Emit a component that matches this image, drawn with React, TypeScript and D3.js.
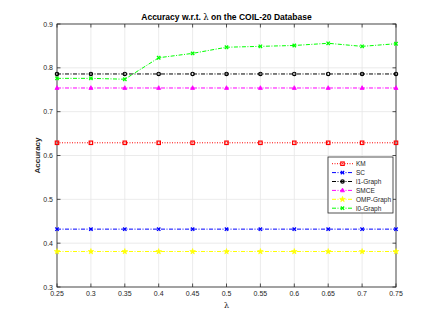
import React, { useEffect, useRef } from 'react';
import * as d3 from 'd3';

const lambdas = [0.25, 0.3, 0.35, 0.4, 0.45, 0.5, 0.55, 0.6, 0.65, 0.7, 0.75];
const kmValues = [0.629, 0.629, 0.629, 0.629, 0.629, 0.629, 0.629, 0.629, 0.629, 0.629, 0.629];
const scValues = [0.432, 0.432, 0.432, 0.432, 0.432, 0.432, 0.432, 0.432, 0.432, 0.432, 0.432];
const l1Values = [0.786, 0.786, 0.786, 0.786, 0.786, 0.786, 0.786, 0.786, 0.786, 0.786, 0.786];
const smceValues = [0.754, 0.754, 0.754, 0.754, 0.754, 0.754, 0.754, 0.754, 0.754, 0.754, 0.754];
const ompValues = [0.381, 0.381, 0.381, 0.381, 0.381, 0.381, 0.381, 0.381, 0.381, 0.381, 0.381];
const l0Values = [0.776, 0.776, 0.774, 0.823, 0.833, 0.847, 0.849, 0.851, 0.856, 0.849, 0.855];
const yTicks = [0.3, 0.4, 0.5, 0.6, 0.7, 0.8, 0.9];

const series = [
  { name: 'KM', values: kmValues, color: '#ff0000', dash: '1,1.5', marker: 'square' },
  { name: 'SC', values: scValues, color: '#0000ff', dash: '4,1.5,1,1.5', marker: 'x' },
  { name: 'l1-Graph', values: l1Values, color: '#000000', dash: '4,1.5,1,1.5', marker: 'circle' },
  { name: 'SMCE', values: smceValues, color: '#ff00ff', dash: '4,1.5,1,1.5', marker: 'triangle' },
  { name: 'OMP-Graph', values: ompValues, color: '#ffff00', dash: '4,1.5,1,1.5', marker: 'star' },
  { name: 'l0-Graph', values: l0Values, color: '#00ff00', dash: '4,1.5,1,1.5', marker: 'x' },
];

const App = () => {
  const svgRef = useRef<SVGSVGElement>(null);

  useEffect(() => {
    const svg = d3.select(svgRef.current);
    svg.selectAll('*').remove();

    const left = 57, right = 396, top = 24, bottom = 287;
    const x = d3.scaleLinear().domain([0.25, 0.75]).range([left, right]);
    const y = d3.scaleLinear().domain([0.3, 0.9]).range([bottom, top]);
    const font = 'Liberation Sans, Arial, sans-serif';

    svg.append('rect').attr('width', 438).attr('height', 323).attr('fill', '#fff');

    // grid
    svg.append('g').selectAll('line').data(lambdas).enter().append('line')
      .attr('x1', d => x(d)).attr('x2', d => x(d)).attr('y1', top).attr('y2', bottom)
      .attr('stroke', '#e6e6e6').attr('stroke-width', 0.8);
    svg.append('g').selectAll('line').data(yTicks).enter().append('line')
      .attr('x1', left).attr('x2', right).attr('y1', d => y(d)).attr('y2', d => y(d))
      .attr('stroke', '#e6e6e6').attr('stroke-width', 0.8);

    // axes frame with inward ticks
    const tickLen = 3.5;
    const axisColor = '#262626';
    const ax = svg.append('g').attr('stroke', axisColor).attr('stroke-width', 0.8);
    ax.append('rect').attr('x', left).attr('y', top).attr('width', right - left).attr('height', bottom - top)
      .attr('fill', 'none');
    lambdas.forEach(d => {
      ax.append('line').attr('x1', x(d)).attr('x2', x(d)).attr('y1', bottom).attr('y2', bottom - tickLen);
      ax.append('line').attr('x1', x(d)).attr('x2', x(d)).attr('y1', top).attr('y2', top + tickLen);
    });
    yTicks.forEach(d => {
      ax.append('line').attr('x1', left).attr('x2', left + tickLen).attr('y1', y(d)).attr('y2', y(d));
      ax.append('line').attr('x1', right).attr('x2', right - tickLen).attr('y1', y(d)).attr('y2', y(d));
    });

    // tick labels
    svg.append('g').selectAll('text').data(lambdas).enter().append('text')
      .attr('x', d => x(d)).attr('y', bottom + 9)
      .attr('text-anchor', 'middle').attr('font-family', font).attr('font-size', 7)
      .attr('fill', axisColor).text(d => String(d));
    svg.append('g').selectAll('text').data(yTicks).enter().append('text')
      .attr('x', left - 4).attr('y', d => y(d) + 2.5)
      .attr('text-anchor', 'end').attr('font-family', font).attr('font-size', 7)
      .attr('fill', axisColor).text(d => String(d));

    // labels
    svg.append('text').attr('x', (left + right) / 2).attr('y', 308)
      .attr('text-anchor', 'middle').attr('font-family', 'DejaVu Serif, serif').attr('font-size', 8)
      .attr('fill', axisColor).text('λ');
    svg.append('text').attr('transform', `translate(40,${(top + bottom) / 2}) rotate(-90)`)
      .attr('text-anchor', 'middle').attr('font-family', font).attr('font-size', 8)
      .attr('font-weight', 'bold').attr('fill', axisColor).text('Accuracy');
    const title = svg.append('text').attr('x', (left + right) / 2).attr('y', 20)
      .attr('text-anchor', 'middle').attr('font-family', font).attr('font-size', 8.5)
      .attr('font-weight', 'bold').attr('fill', '#000');
    title.append('tspan').text('Accuracy w.r.t. ');
    title.append('tspan').attr('font-family', 'DejaVu Serif, serif').attr('font-weight', 'normal').text('λ');
    title.append('tspan').text(' on the COIL-20 Database');

    const drawMarker = (g: any, cx: number, cy: number, type: string, color: string) => {
      const s = 1.7;
      if (type === 'square') {
        g.append('rect').attr('x', cx - s).attr('y', cy - s).attr('width', 2 * s).attr('height', 2 * s)
          .attr('fill', 'none').attr('stroke', color).attr('stroke-width', 1.2);
      } else if (type === 'circle') {
        g.append('circle').attr('cx', cx).attr('cy', cy).attr('r', s)
          .attr('fill', 'none').attr('stroke', color).attr('stroke-width', 1.2);
      } else if (type === 'triangle') {
        g.append('path').attr('d', `M${cx},${cy - 2.3}L${cx + 2},${cy + 1.4}L${cx - 2},${cy + 1.4}Z`)
          .attr('fill', color).attr('stroke', color).attr('stroke-width', 0.8);
      } else if (type === 'x') {
        g.append('path').attr('d', `M${cx - s},${cy - s}L${cx + s},${cy + s}M${cx - s},${cy + s}L${cx + s},${cy - s}`)
          .attr('stroke', color).attr('stroke-width', 1.3);
      } else if (type === 'star') {
        g.append('path').attr('d', d3.symbol(d3.symbolStar, 10)())
          .attr('transform', `translate(${cx},${cy})`)
          .attr('fill', color).attr('stroke', color).attr('stroke-width', 0.6);
      }
    };

    const line = d3.line<number>().x((_, i) => x(lambdas[i])).y(d => y(d));
    series.forEach(s => {
      const g = svg.append('g');
      g.append('path').datum(s.values).attr('d', line).attr('fill', 'none')
        .attr('stroke', s.color).attr('stroke-width', 1).attr('stroke-dasharray', s.dash);
      s.values.forEach((v, i) => drawMarker(g, x(lambdas[i]), y(v), s.marker, s.color));
    });

    // legend
    const lx = 328, ly = 157, lw = 65, lh = 56;
    const lg = svg.append('g');
    lg.append('rect').attr('x', lx).attr('y', ly).attr('width', lw).attr('height', lh)
      .attr('fill', '#fff').attr('stroke', axisColor).attr('stroke-width', 0.8);
    series.forEach((s, i) => {
      const yy = ly + 6.7 + i * 8.9;
      lg.append('line').attr('x1', lx + 4).attr('x2', lx + 25).attr('y1', yy).attr('y2', yy)
        .attr('stroke', s.color).attr('stroke-width', 1).attr('stroke-dasharray', s.dash);
      drawMarker(lg, lx + 14.5, yy, s.marker, s.color);
      lg.append('text').attr('x', lx + 28).attr('y', yy + 2.5)
        .attr('font-family', font).attr('font-size', 6.5).attr('fill', axisColor).text(s.name);
    });
  }, []);

  return (
    <svg ref={svgRef} width={438} height={323} style={{ position: 'absolute', left: 0, top: 0 }}></svg>
  );
};

export default App;
